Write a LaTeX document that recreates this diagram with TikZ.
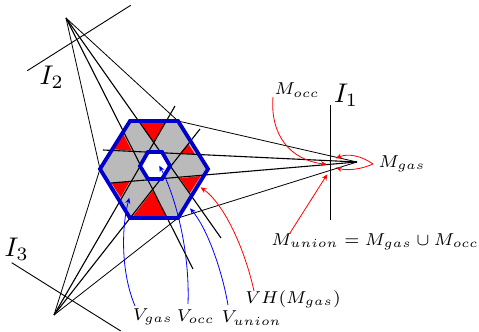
\documentclass[tikz,border=0pt]{standalone}
\usepackage{amsmath,amssymb}
\usepackage{tikz}
\usetikzlibrary{arrows.meta}

\begin{document}
\begin{tikzpicture}[
    x=0.5pt, y=-0.5pt,
    ray/.style={black, line width=0.4pt},
    raybold/.style={black, line width=0.55pt},
    plane/.style={black, line width=0.45pt},
    hexline/.style={draw=blue!80!black, line width=1.9pt, line join=miter},
    redarr/.style={red, line width=0.4pt, -{Stealth[length=3pt, width=2.6pt]}},
    bluearr/.style={blue, line width=0.4pt, -{Stealth[length=3pt, width=2.6pt]}},
    lbl/.style={font=\scriptsize, inner sep=0pt, scale=1.23, transform shape},
    planelbl/.style={inner sep=0pt, scale=1.35, transform shape}
]
\useasboundingbox (0,0) rectangle (479,332);

% Camera centres
\coordinate (cam1) at (357,162);
\coordinate (cam2) at (66,18);
\coordinate (cam3) at (54,315);

% Outer hexagon
\coordinate (hl) at (100,169);
\coordinate (htl) at (130,121);
\coordinate (htr) at (178,121);
\coordinate (hr) at (208,169);
\coordinate (hbr) at (178,218);
\coordinate (hbl) at (130,218);

% Gray region and red triangles
\fill[black!27] (hl) -- (htl) -- (htr) -- (hr) -- (hbr) -- (hbl) -- cycle;
\fill[red] (140,122.7) -- (165,122.7) -- (153.3,142.7) -- cycle;
\fill[red] (123.3,134.3) -- (113.3,149.3) -- (131.7,150.7) -- cycle;
\fill[red] (188.3,144) -- (180,153.3) -- (195,154.3) -- cycle;
\fill[red] (180,178.3) -- (200.7,176) -- (190,192.7) -- cycle;
\fill[red] (152.7,190.7) -- (133.3,216) -- (166,216) -- cycle;
\fill[red] (111.7,183.3) -- (130,181) -- (120.7,197.3) -- cycle;

% Rays of camera 1
\coordinate (e1a) at (103,150);
\coordinate (e1b) at (111,183);
\draw[ray] (cam1) -- (htr);
\draw[raybold] (cam1) -- (e1a);
\draw[raybold] (cam1) -- (e1b);
\draw[ray] (cam1) -- (hbr);

% Rays of camera 2
\coordinate (e2a) at (193,269);
\coordinate (e2b) at (221,238);
\draw[ray] (cam2) -- (hl);
\draw[raybold] (cam2) -- (e2a);
\draw[raybold] (cam2) -- (e2b);
\draw[ray] (cam2) -- (htr);

% Rays of camera 3
\coordinate (e3a) at (175,106);
\coordinate (e3b) at (200,129);
\draw[ray] (cam3) -- (hl);
\draw[raybold] (cam3) -- (e3a);
\draw[raybold] (cam3) -- (e3b);
\draw[ray] (cam3) -- (hbr);

% Image planes
\coordinate (p1a) at (330.7,105);
\coordinate (p1b) at (330.7,220);
\coordinate (p2a) at (27.3,70.7);
\coordinate (p2b) at (130.7,5.3);
\coordinate (p3a) at (11.7,262.7);
\coordinate (p3b) at (120.7,331);
\draw[plane] (p1a) -- (p1b);
\draw[plane] (p2a) -- (p2b);
\draw[plane] (p3a) -- (p3b);

% Hexagons
\filldraw[hexline, fill=white] (140,166) -- (148,152) -- (162,152) -- (170,166) -- (162,179) -- (148,179) -- cycle;
\draw[hexline] (hl) -- (htl) -- (htr) -- (hr) -- (hbr) -- (hbl) -- cycle;

% Labels
\node[planelbl] (i1) at (346,95) {$I_1$};
\node[planelbl] (i2) at (51.7,77) {$I_2$};
\node[planelbl] (i3) at (16.7,249) {$I_3$};
\node[lbl] (mocc) at (297,90) {$M_{occ}$};
\node[lbl] (mgas) at (402,164) {$M_{gas}$};
\node[lbl] (munion) at (375,242) {$M_{union}=M_{gas}\cup M_{occ}$};
\node[lbl] (vgas) at (152.7,316.7) {$V_{gas}$};
\node[lbl] (vocc) at (195.7,316.7) {$V_{occ}$};
\node[lbl] (vunion) at (251.7,318.3) {$V_{union}$};
\node[lbl] (vh) at (293,299) {$VH(M_{gas})$};

% Red arrows
\coordinate (soc) at (273,97);
\coordinate (sga) at (373,164);
\coordinate (sun) at (290,233);
\coordinate (svh) at (254,291);
\draw[redarr] (soc) .. controls (270,135) and (290,160) .. (326.7,164.3);
\draw[redarr] (sga) .. controls (362,156) and (348,153) .. (336,158.3);
\draw[redarr] (sga) .. controls (362,169) and (348,171) .. (336,167.7);
\draw[redarr] (sun) -- (327.3,174.3);
\draw[redarr] (svh) .. controls (245,250) and (225,205) .. (200.7,187.3);

% Blue arrows
\coordinate (sgs) at (135,306);
\coordinate (sco) at (188,304);
\coordinate (snn) at (228,305);
\draw[bluearr] (sgs) .. controls (120,270) and (122,225) .. (129.3,197.7);
\draw[bluearr] (sco) .. controls (190,250) and (175,195) .. (159.3,165.7);
\draw[bluearr] (snn) .. controls (222,270) and (207,228) .. (190,208.3);

\end{tikzpicture}
\end{document}
